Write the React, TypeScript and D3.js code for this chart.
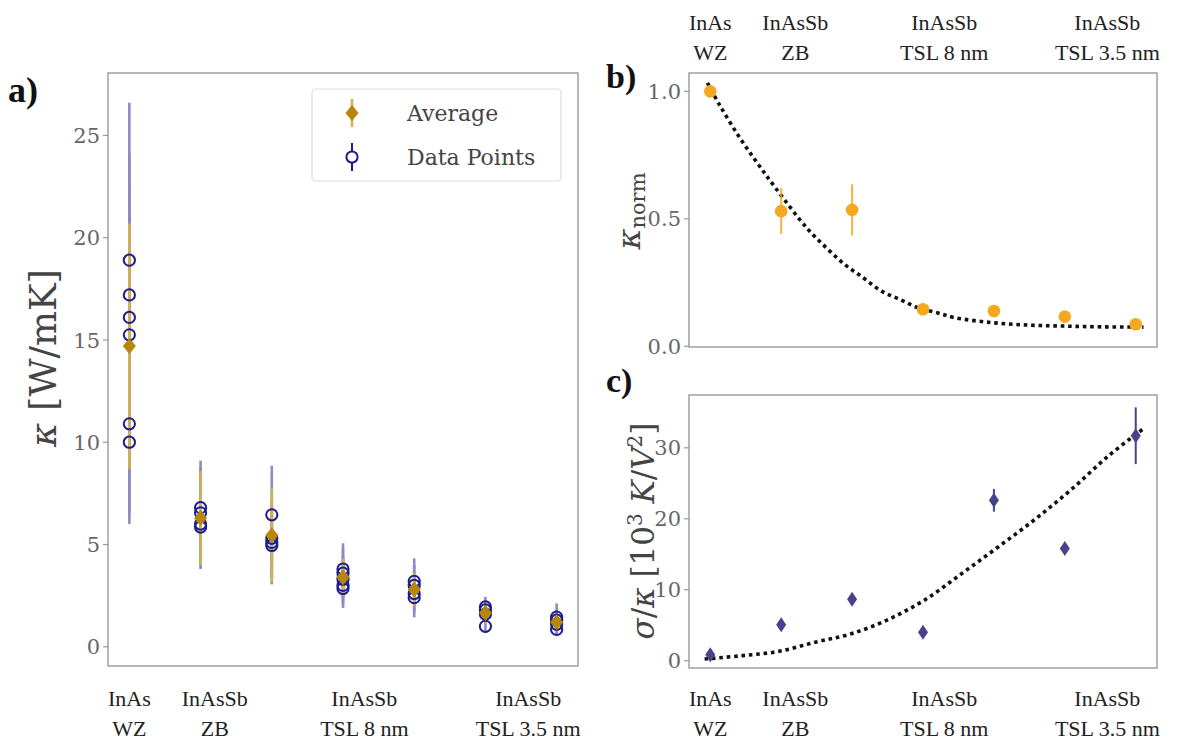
import React from "react";
import * as d3 from "d3";

// ---------- data ----------
const categoryTop = ["InAs", "InAsSb", "InAsSb", "InAsSb"];
const categoryBottom = ["WZ", "ZB", "TSL 8 nm", "TSL 3.5 nm"];
const categoryPos = [0, 1.2, 3.3, 5.6];

const sampleIdx = [0, 1, 2, 3, 4, 5, 6];

const avgKappa = [14.7, 6.3, 5.45, 3.4, 2.8, 1.65, 1.2];
const avgKappaErr = [6.0, 2.3, 2.3, 0.9, 0.8, 0.5, 0.4];

const pointKappa = [
  [18.9, 17.2, 16.1, 15.25, 10.9, 10.0],
  [6.8, 6.55, 6.0, 5.85],
  [6.45, 5.3, 5.1, 4.95],
  [3.8, 3.6, 3.3, 3.0, 2.85],
  [3.2, 3.0, 2.6, 2.4],
  [1.95, 1.8, 1.6, 1.0],
  [1.45, 1.3, 1.1, 0.85],
];
const pointKappaErr = [
  [7.7, 6.9, 6.5, 6.1, 4.4, 4.0],
  [2.3, 2.2, 2.1, 2.05],
  [2.4, 1.9, 1.8, 1.9],
  [1.26, 1.2, 1.1, 1.0, 0.95],
  [1.12, 1.0, 0.9, 0.96],
  [0.49, 0.45, 0.4, 0.3],
  [0.67, 0.55, 0.45, 0.3],
];

const kNorm = [1.0, 0.53, 0.535, 0.145, 0.138, 0.116, 0.086];
const kNormErr = [0.02, 0.09, 0.1, 0.012, 0.012, 0.01, 0.008];
const kNormFitX = [-0.04, 0.13, 0.39, 0.65, 0.91, 1.37, 1.63, 1.89, 2.15, 2.41, 2.67, 2.93, 3.19, 3.45, 3.96, 4.48, 5.0, 5.52, 6.11];
const kNormFitY = [1.033, 0.947, 0.829, 0.724, 0.625, 0.461, 0.388, 0.322, 0.27, 0.217, 0.184, 0.151, 0.132, 0.112, 0.093, 0.083, 0.079, 0.076, 0.075];

const sigmaKappa = [0.85, 5.05, 8.65, 4.0, 22.6, 15.8, 31.7];
const sigmaKappaErr = [0.8, 0.7, 0.8, 0.8, 1.6, 0.8, 4.0];
const sigmaFitX = [-0.08, 0.44, 0.96, 1.48, 1.99, 2.51, 3.03, 3.55, 4.07, 4.59, 5.1, 5.62, 6.11];
const sigmaFitY = [0.23, 0.7, 1.3, 2.6, 3.8, 5.8, 8.6, 12.3, 16.1, 20.0, 24.2, 28.9, 32.7];

const ticksA = [0, 5, 10, 15, 20, 25];
const ticksB = [0, 0.5, 1.0];
const ticksC = [0, 10, 20, 30];

// ---------- styles ----------
const W = 1187;
const H = 745;
const tickFont = "DejaVu Serif";
const catFont = "Liberation Serif";
const frameColor = "#999";
const tickColor = "#666";
const gold = "#b8860b";
const goldErr = "#d6b24f";
const blueErr = "#8b8bc6";
const blueEdge = "#1c1c8e";
const orange = "#f4a81f";
const slate = "#47438a";

const xA = d3.scaleLinear().domain([-0.3, 6.3]).range([108, 578]);
const yA = d3.scaleLinear().domain([-0.94, 28.05]).range([666, 73]);
const xB = d3.scaleLinear().domain([-0.3, 6.3]).range([689, 1157]);
const yB = d3.scaleLinear().domain([-0.003, 1.072]).range([347, 73]);
const yC = d3.scaleLinear().domain([-1.03, 37.44]).range([668, 395]);

function diamond(cx: number, cy: number, w: number, h: number) {
  return `M${cx},${cy - h / 2}L${cx + w / 2},${cy}L${cx},${cy + h / 2}L${cx - w / 2},${cy}Z`;
}

function Frame({ x, y }: { x: any; y: any }) {
  const [x0, x1] = x.range();
  const [y0, y1] = y.range();
  return (
    <rect x={x0} y={y1} width={x1 - x0} height={y0 - y1} fill="none" stroke={frameColor} strokeWidth={1.4} />
  );
}

function YAxis({ x, y, ticks, fmt }: { x: any; y: any; ticks: number[]; fmt: (v: number) => string }) {
  const x0 = x.range()[0];
  return (
    <g>
      {ticks.map((t) => (
        <g key={t}>
          <line x1={x0 - 5} x2={x0} y1={y(t)} y2={y(t)} stroke={frameColor} strokeWidth={1.2} />
          <text x={x0 - 8} y={y(t)} dy="0.36em" textAnchor="end" fontFamily={tickFont} fontSize={21} fill={tickColor}>
            {fmt(t)}
          </text>
        </g>
      ))}
    </g>
  );
}

function Categories({ x, y1, y2 }: { x: any; y1: number; y2: number }) {
  return (
    <g fontFamily={catFont} fontSize={22} fill="#222" textAnchor="middle">
      {categoryPos.map((p, i) => (
        <g key={i}>
          <text x={x(p)} y={y1}>{categoryTop[i]}</text>
          <text x={x(p)} y={y2}>{categoryBottom[i]}</text>
        </g>
      ))}
    </g>
  );
}

function dottedPath(xs: number[], ys: number[], x: any, y: any) {
  const pts = xs.map((v, i) => [v, ys[i]] as [number, number]);
  return d3
    .line<[number, number]>()
    .x((d) => x(d[0]))
    .y((d) => y(d[1]))
    .curve(d3.curveCatmullRom.alpha(0.5))(pts) as string;
}

export default function App() {
  return (
    <svg width={W} height={H} style={{ position: "absolute", left: 0, top: 0, background: "#fff" }}>
      <rect x={0} y={0} width={W} height={H} fill="#fff" />

      {/* ---------------- Panel a ---------------- */}
      <Frame x={xA} y={yA} />
      <YAxis x={xA} y={yA} ticks={ticksA} fmt={(v) => String(v)} />
      {sampleIdx.map((i) => (
        <g key={"be" + i}>
          {pointKappa[i].map((v, j) => (
            <line key={j} x1={xA(i)} x2={xA(i)} y1={yA(v - pointKappaErr[i][j])} y2={yA(v + pointKappaErr[i][j])}
              stroke={blueErr} strokeWidth={2.6} />
          ))}
        </g>
      ))}
      {sampleIdx.map((i) => (
        <line key={"ge" + i} x1={xA(i)} x2={xA(i)} y1={yA(avgKappa[i] - avgKappaErr[i])} y2={yA(avgKappa[i] + avgKappaErr[i])}
          stroke={goldErr} strokeWidth={2.6} />
      ))}
      {sampleIdx.map((i) => (
        <g key={"pc" + i}>
          {pointKappa[i].map((v, j) => (
            <circle key={j} cx={xA(i)} cy={yA(v)} r={5.6} fill="none" stroke={blueEdge} strokeWidth={2} />
          ))}
        </g>
      ))}
      {sampleIdx.map((i) => (
        <path key={"gd" + i} d={diamond(xA(i), yA(avgKappa[i]), 13, 16)} fill={gold} />
      ))}
      <Categories x={xA} y1={706} y2={736} />

      {/* legend */}
      <rect x={312} y={89} width={249} height={92} rx={4} fill="#fff" stroke="#ddd" strokeWidth={1.2} />
      <line x1={352} x2={352} y1={99} y2={127} stroke={goldErr} strokeWidth={2.6} />
      <path d={diamond(352, 113, 13, 16)} fill={gold} />
      <line x1={352} x2={352} y1={143} y2={171} stroke={blueEdge} strokeWidth={2} />
      <circle cx={352} cy={157} r={5.6} fill="#fff" stroke={blueEdge} strokeWidth={2} />
      <text x={407} y={121} fontFamily={tickFont} fontSize={22} fill="#444">Average</text>
      <text x={407} y={165} fontFamily={tickFont} fontSize={22} fill="#444">Data Points</text>

      {/* y label a */}
      <text transform="translate(56,358) rotate(-90)" textAnchor="middle" fontFamily={tickFont} fontSize={37} fill="#444">
        <tspan fontStyle="italic">κ</tspan>
        <tspan> [W/mK]</tspan>
      </text>
      <text x={8} y={102} fontFamily={catFont} fontWeight="bold" fontSize={36} fill="#111">a)</text>

      {/* ---------------- Panel b ---------------- */}
      <Frame x={xB} y={yB} />
      <YAxis x={xB} y={yB} ticks={ticksB} fmt={(v) => v.toFixed(1)} />
      <path d={dottedPath(kNormFitX, kNormFitY, xB, yB)} fill="none" stroke="#111" strokeWidth={3.6} strokeDasharray="3.6 3.8" />
      {sampleIdx.map((i) => (
        <g key={"b" + i}>
          <line x1={xB(i)} x2={xB(i)} y1={yB(kNorm[i] - kNormErr[i])} y2={yB(kNorm[i] + kNormErr[i])} stroke={orange} strokeWidth={2} opacity={0.85} />
          <circle cx={xB(i)} cy={yB(kNorm[i])} r={6.3} fill={orange} />
        </g>
      ))}
      <g>
        {categoryPos.map((p, i) => (
          <g key={i} fontFamily={catFont} fontSize={22} fill="#222" textAnchor="middle">
            <text x={xB(p)} y={30}>{categoryTop[i]}</text>
            <text x={xB(p)} y={60}>{categoryBottom[i]}</text>
          </g>
        ))}
      </g>
      <text transform="translate(640,211) rotate(-90)" textAnchor="middle" fontFamily={tickFont} fill="#444">
        <tspan fontStyle="italic" fontSize={32}>κ</tspan>
        <tspan fontSize={21} dy="5">norm</tspan>
      </text>
      <text x={606} y={88} fontFamily={catFont} fontWeight="bold" fontSize={34} fill="#111">b)</text>

      {/* ---------------- Panel c ---------------- */}
      <Frame x={xB} y={yC} />
      <YAxis x={xB} y={yC} ticks={ticksC} fmt={(v) => String(v)} />
      <path d={dottedPath(sigmaFitX, sigmaFitY, xB, yC)} fill="none" stroke="#111" strokeWidth={3.6} strokeDasharray="3.6 3.8" />
      {sampleIdx.map((i) => (
        <g key={"c" + i}>
          <line x1={xB(i)} x2={xB(i)} y1={yC(sigmaKappa[i] - sigmaKappaErr[i])} y2={yC(sigmaKappa[i] + sigmaKappaErr[i])} stroke={slate} strokeWidth={2} />
          <path d={diamond(xB(i), yC(sigmaKappa[i]), 10, 15)} fill={slate} />
        </g>
      ))}
      <Categories x={xB} y1={706} y2={736} />
      <text transform="translate(654,531) rotate(-90)" textAnchor="middle" fontFamily={tickFont} fontSize={31} fill="#444">
        <tspan fontStyle="italic">σ</tspan>
        <tspan>/</tspan>
        <tspan fontStyle="italic">κ</tspan>
        <tspan> [10</tspan>
        <tspan fontSize={20} dy="-12">3</tspan>
        <tspan dy="12"> </tspan>
        <tspan fontStyle="italic">K</tspan>
        <tspan>/</tspan>
        <tspan fontStyle="italic">V</tspan>
        <tspan fontSize={20} dy="-12">2</tspan>
        <tspan dy="12">]</tspan>
      </text>
      <text x={606} y={392} fontFamily={catFont} fontWeight="bold" fontSize={34} fill="#111">c)</text>
    </svg>
  );
}
